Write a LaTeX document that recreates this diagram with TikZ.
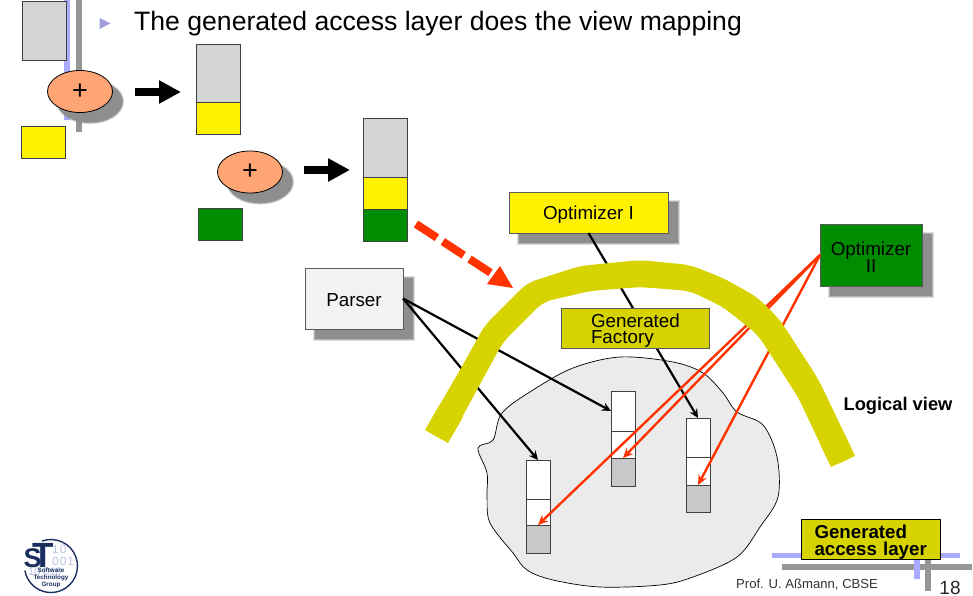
\documentclass[tikz,border=0pt]{standalone}
\usepackage{fontspec}
\setmainfont{Liberation Sans}
\usetikzlibrary{arrows.meta,shapes.geometric}
\definecolor{blockgrey}{HTML}{D4D4D4}
\definecolor{lowgrey}{HTML}{C8C8C8}
\definecolor{blobgrey}{HTML}{EBEBEB}
\definecolor{plusfill}{HTML}{FFA573}
\definecolor{olive}{HTML}{D6D300}
\definecolor{dgreen}{HTML}{008C00}
\definecolor{hotred}{HTML}{FF3300}
\definecolor{barblue}{HTML}{AAAAFF}
\definecolor{bargrey}{HTML}{969696}
\definecolor{navy}{HTML}{1A2F5F}
\definecolor{digit}{HTML}{BCC4E4}
\definecolor{shadowgrey}{HTML}{8E8E8E}
\tikzset{
  softshadow/.style={
    preaction={draw=shadowgrey,line width=3.2pt,fill=shadowgrey,opacity=.3,transform canvas={shift={(10pt,-10pt)}}},
    preaction={draw=shadowgrey,line width=1.6pt,fill=shadowgrey,opacity=.5,transform canvas={shift={(10pt,-10pt)}}},
    preaction={fill=shadowgrey,transform canvas={shift={(10pt,-10pt)}}}},
  blockbox/.style={draw=black!75,line width=0.7pt,inner sep=0pt,outer sep=0pt},
  seg/.style={blockbox,minimum width=24pt,fill=white},
  plusnode/.style={ellipse,draw=black,line width=0.8pt,fill=plusfill,minimum width=65pt,minimum height=42pt,inner sep=0pt,font=\fontsize{27}{27}\selectfont,softshadow},
  labelbox/.style={draw=black!65,line width=0.6pt,inner sep=0pt,outer sep=0pt,align=center,font=\fontsize{18.8}{16.5}\selectfont},
  fatarrow/.style={line width=7.5pt,-{Triangle[length=22pt,width=22pt]}},
  blackline/.style={black,line width=2.2pt,-{Stealth[length=9pt,width=8.5pt]}},
  redline/.style={hotred,line width=2.4pt,-{Stealth[length=10pt,width=9pt]}},
  bar/.style={line width=5.5pt},
  barv/.style={line width=6.5pt}
}
\begin{document}
\begin{tikzpicture}[x=1pt,y=-1pt]
\useasboundingbox (0,0) rectangle (973,596);
% slide decoration
\draw[bar,barblue] (67,0) -- (67,120);
\draw[bar,bargrey] (79,0) -- (79,132);
\draw[bar,barblue] (772,555.5) -- (960,555.5);
\draw[bar,bargrey] (782,567) -- (972,567);
\draw[bar,barblue] (917,555) -- (917,579);
\draw[barv,bargrey] (928,555) -- (928,591);
\fill[barblue!70!gray] (99.5,18) -- (110.5,23.5) -- (99.5,29) -- cycle;
\node[anchor=west,inner sep=0pt,font=\fontsize{26.6}{30}\selectfont] (title) at (134,23.5) {The generated access layer does the view mapping};
% top-left building blocks
\node[blockbox,fill=blockgrey,minimum width=44.5pt,minimum height=59pt] (g1) at (44.5,30.5) {};
\node[blockbox,fill=yellow,minimum width=44.5pt,minimum height=32pt] (y1) at (43.5,142.5) {};
\node[plusnode] (plusa) at (80,91.5) {+};
\coordinate (fa1) at (135,92);
\coordinate (fa2) at (181,92);
\draw[fatarrow] (fa1) -- (fa2);
\node[blockbox,fill=blockgrey,minimum width=44pt,minimum height=58pt] (g2) at (218,73) {};
\node[blockbox,fill=yellow,minimum width=44pt,minimum height=32pt] (y2) at (218,118) {};
\node[plusnode] (plusb) at (250,172) {+};
\coordinate (fb1) at (304,170);
\coordinate (fb2) at (350,170);
\draw[fatarrow] (fb1) -- (fb2);
\node[blockbox,fill=dgreen,minimum width=44pt,minimum height=32pt] (gr1) at (220,224) {};
\node[blockbox,fill=blockgrey,minimum width=44pt,minimum height=59pt] (g3) at (385,147.5) {};
\node[blockbox,fill=yellow,minimum width=44pt,minimum height=32pt] (y3) at (385,193) {};
\node[blockbox,fill=dgreen,minimum width=44pt,minimum height=32pt] (gr3) at (385,225) {};
% red dashed arrow
\coordinate (ra1) at (416,224);
\coordinate (ra2) at (513,288);
\fill[hotred] (ra2) -- (487,284) -- (500,266) -- cycle;
\draw[hotred,line width=8pt,dash pattern=on 25pt off 7pt] (ra1) -- (494,275);
% blob
\draw[black,line width=0.7pt,fill=blobgrey] plot[smooth cycle,tension=0.55] coordinates {
(478,448) (493,440) (502,413) (533,390) (573,368) (620,357) (673,362) (703,373) (723,393) (737,412) (763,425) (777,457) (778,497) (760,527) (737,557) (693,577) (660,585) (600,587) (553,580) (527,570) (513,553) (490,523) (487,497) (487,473)};
% stacks
\node[seg,minimum height=39pt] (a1) at (538,479.5) {};
\node[seg,minimum height=26pt] (a2) at (538,512) {};
\node[seg,fill=lowgrey,minimum height=28pt] (a3) at (538,539) {};
\node[seg,minimum height=40pt] (b1) at (623,411) {};
\node[seg,minimum height=27pt] (b2) at (623,444.5) {};
\node[seg,fill=lowgrey,minimum height=28pt] (b3) at (623,472) {};
\node[seg,minimum height=39pt] (c1) at (698,437.5) {};
\node[seg,minimum height=28pt] (c2) at (698,471) {};
\node[seg,fill=lowgrey,minimum height=27pt] (c3) at (698,498.5) {};
% boxes
\node[labelbox,fill=white!95!black,minimum width=98pt,minimum height=61pt,softshadow] (parser) at (354,298.5) {\rule{0pt}{17pt}Parser};
\node[labelbox,fill=yellow,minimum width=159pt,minimum height=41pt,softshadow] (opta) at (588.5,212.5) {\rule{0pt}{17pt}Optimizer I};
\node[labelbox,fill=dgreen,minimum width=102pt,minimum height=62pt,softshadow] (optb) at (871,255) {\rule{0pt}{18pt}Optimizer\\II};
% connectors
\draw[blackline] (parser.east) -- (a1.north);
\draw[blackline] (parser.east) -- (b1.west);
\draw[blackline] (opta.south) -- (c1.north);
\draw[redline] (optb.west) -- (a2.south);
\draw[redline] (optb.west) -- (b2.south);
\draw[redline] (optb.west) -- (c2.south);
% logical view arc
\fill[olive,rounded corners=9pt] (425,430) -- (460,370) -- (485,325) -- (527,283) -- (580,266) -- (640,260) -- (690,265) -- (723,278) -- (757,297) -- (780,320) -- (817,377) -- (825,393) -- (855,456) -- (831,467) -- (798,397) -- (758,335) -- (723,307) -- (690,291) -- (640,287) -- (590,291) -- (543,302) -- (503,342) -- (448,443) -- cycle;
\fill[olive] (425,430) -- (440,404) -- (463,417) -- (448,443) -- cycle;
\fill[olive] (855,456) -- (845,435) -- (821,446) -- (831,467) -- cycle;
\node[labelbox,fill=olive,minimum width=148pt,minimum height=40pt,align=left,text width=148pt] (fact) at (635.5,328) {\rule{0pt}{19pt}\hspace*{29.5pt}Generated\\\hspace*{29.5pt}Factory};
\node[inner sep=0pt,font=\fontsize{18.3}{18}\selectfont\bfseries] (logical) at (898,406) {Logical view};
% access layer
\node[labelbox,fill=olive,draw=black,minimum width=139pt,minimum height=40pt,align=left,text width=139pt,font=\fontsize{18.7}{17}\selectfont\bfseries] (access) at (870.5,539) {\rule{0pt}{19pt}\hspace*{13.5pt}Generated\\\hspace*{13.5pt}access layer};
\node[anchor=west,inner sep=0pt,font=\fontsize{13.1}{13}\selectfont,text=black!80] (prof) at (736,585) {Prof. U. Aßmann, CBSE};
\node[inner sep=0pt,font=\fontsize{19}{19}\selectfont,text=black!85] (page) at (950,587.5) {18};
% logo
\draw[navy,line width=1.4pt] (51,566) ++(-110:26.5) arc[start angle=-110,end angle=170,radius=26.5];
\node[anchor=west,inner sep=0pt,text=digit,font=\fontsize{12}{12}\selectfont\addfontfeature{LetterSpace=8}] (d1) at (52,549) {10};
\node[anchor=west,inner sep=0pt,text=digit,font=\fontsize{12}{12}\selectfont\addfontfeature{LetterSpace=8}] (d2) at (52,561) {001};
\node[anchor=west,inner sep=0pt,text=digit,font=\fontsize{11}{11}\selectfont] (d3) at (28,572) {10 010};
\node[anchor=south west,inner sep=0pt,text=navy,font=\fontsize{35}{35}\selectfont\bfseries] (tt) at (32,567.5) {T};
\node[anchor=south west,inner sep=0pt,text=navy,font=\fontsize{27}{27}\selectfont\bfseries] (ss) at (23.5,567.5) {S};
\node[inner sep=0pt,align=center,text=navy,font=\fontsize{6.3}{6.8}\selectfont\bfseries] (grp) at (51,578) {Software\\Technology\\Group};
\end{tikzpicture}
\end{document}
